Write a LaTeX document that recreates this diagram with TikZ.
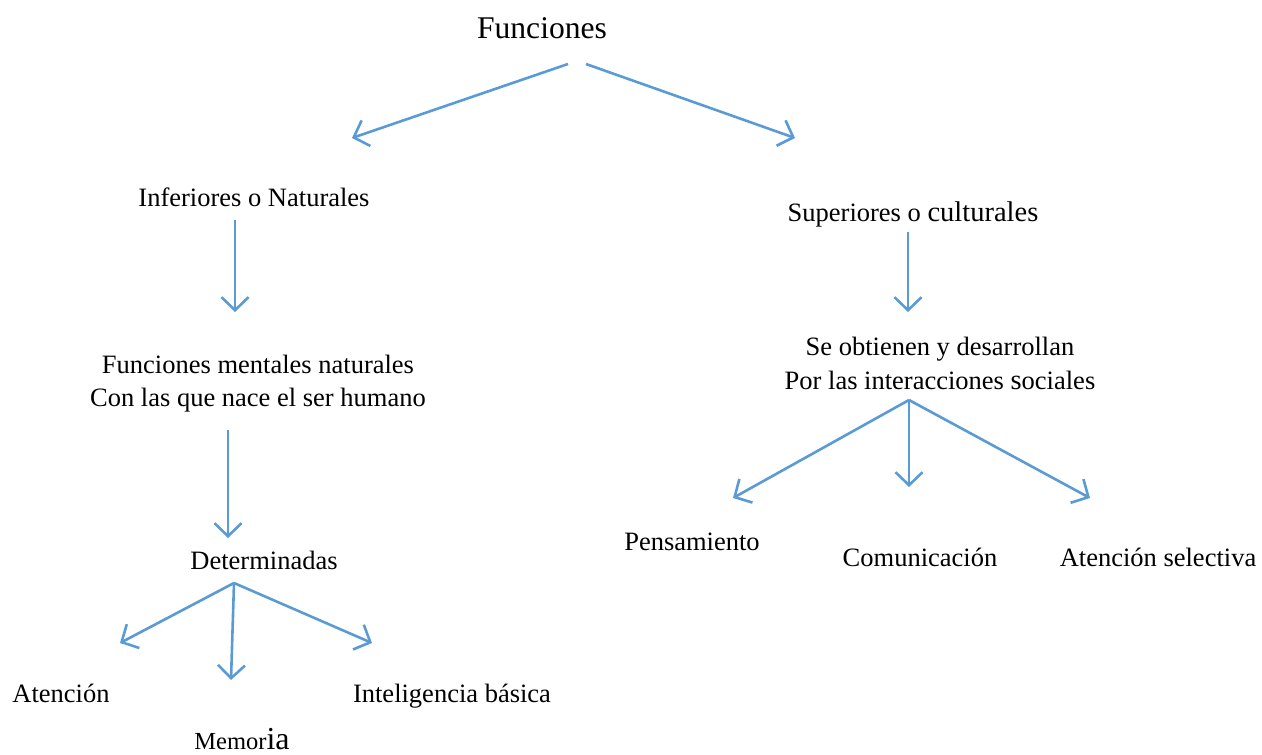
\documentclass[tikz,border=0pt]{standalone}
\usepackage{fontspec}
\setmainfont{Liberation Serif}
\usetikzlibrary{arrows.meta}
\definecolor{arrowblue}{HTML}{5B9BD5}
\tikzset{
  lbl/.style={inner sep=0pt, anchor=base, align=center, font=\fontsize{26.5}{33}\selectfont},
  conn/.style={draw=arrowblue, line width=2.6pt, -{Straight Barb[length=13pt,width=27pt,line width=2.6pt]}}
}
\begin{document}
\begin{tikzpicture}[x=1pt,y=-1pt]
\useasboundingbox (0,0) rectangle (1262,755);
% nodes
\node[lbl, font=\fontsize{31.6}{36}\selectfont] (fun) at (542,38) {Funciones};
\node[lbl] (inf) at (254,206) {Inferiores o Naturales};
\node[lbl] (sup) at (913,221) {Superiores o {\fontsize{28.5}{33}\selectfont culturales}};
\node[lbl] (fmn) at (258,406) {Funciones mentales naturales\\Con las que nace el ser humano};
\node[lbl, font=\fontsize{26.5}{34}\selectfont] (seo) at (940,389) {Se obtienen y desarrollan\\Por las interacciones {\fontsize{28.5}{33}\selectfont s}ociales};
\node[lbl] (det) at (264,569) {Determinadas};
\node[lbl] (ate) at (61,702) {Atención};
\node[lbl] (mem) at (242,749) {{\fontsize{24.5}{30}\selectfont Memor}{\fontsize{32}{36}\selectfont ia}};
\node[lbl] (int) at (452,702) {Inteligencia básica};
\node[lbl] (pen) at (692,550) {Pensamiento};
\node[lbl] (com) at (920,566) {Comunicación};
\node[lbl] (ats) at (1158,566) {Atención selectiva};
% connector end points
\coordinate (funL) at (568,64);
\coordinate (funR) at (586,64);
\coordinate (infT) at (352,138);
\coordinate (supT) at (795,138);
\coordinate (infB) at (235,220);
\coordinate (fmnT) at (235,312);
\coordinate (supB) at (908,232);
\coordinate (seoT) at (908,312);
\coordinate (fmnB) at (228,430);
\coordinate (detT) at (228,538);
\coordinate (detB) at (234,583);
\coordinate (ateT) at (120,643);
\coordinate (memT) at (231,680);
\coordinate (intT) at (372,643);
\coordinate (seoB) at (909,400);
\coordinate (penT) at (733,498);
\coordinate (comT) at (909,487);
\coordinate (atsT) at (1090,498);
% connectors
\draw[conn] (funL) -- (infT);
\draw[conn] (funR) -- (supT);
\draw[conn] (infB) -- (fmnT);
\draw[conn] (supB) -- (seoT);
\draw[conn] (fmnB) -- (detT);
\draw[conn] (detB) -- (ateT);
\draw[conn] (detB) -- (memT);
\draw[conn] (detB) -- (intT);
\draw[conn] (seoB) -- (penT);
\draw[conn] (seoB) -- (comT);
\draw[conn] (seoB) -- (atsT);
\end{tikzpicture}
\end{document}
